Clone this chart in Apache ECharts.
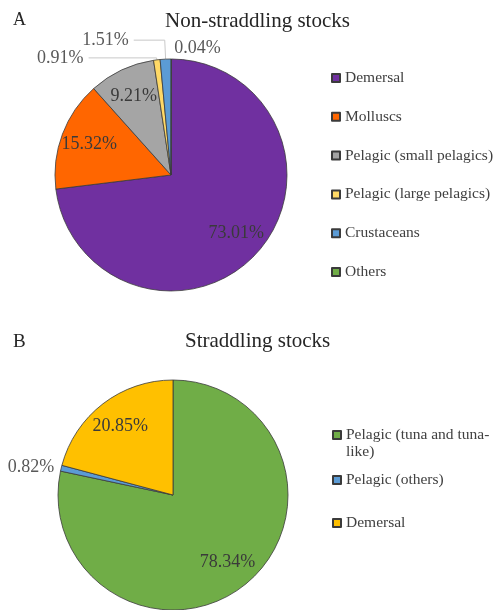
<!DOCTYPE html>
<html>
<head>
<meta charset="utf-8">
<script src="https://cdn.jsdelivr.net/npm/echarts@6/dist/echarts.min.js"></script>
<style>
  html, body { margin: 0; padding: 0; background: #fff; }
  .panel { width: 494px; height: 305px; }
</style>
</head>
<body>
<div id="a" class="panel"></div>
<div id="b" class="panel"></div>
<script>
// Panel A - non-straddling stocks
const catsA = ['Demersal', 'Molluscs', 'Pelagic (small pelagics)', 'Pelagic (large pelagics)', 'Crustaceans', 'Others']
const valsA = [73.01, 15.32, 9.21, 0.91, 1.51, 0.04]
const colorsA = ['#7030a0', '#ff6600', '#a5a5a5', '#ffd966', '#5b9bd5', '#70ad47']

// Panel B - straddling stocks
const catsB = ['Pelagic (tuna and tuna-like)', 'Pelagic (others)', 'Demersal']
const valsB = [78.34, 0.82, 20.85]
const colorsB = ['#70ad47', '#5b9bd5', '#ffc000']

const SERIF = 'Liberation Serif'
const INSIDE_K = 1.43 // excel puts inner labels at ~0.71 r, echarts at 0.5 r

const insideLabel = { position: 'inside', color: '#3a3a3a', fontSize: 18 }
const outsideLabel = { position: 'outside', color: '#595959', fontSize: 18 }

// per-slice label styling (by index)
const labelStyleA = [
  { label: insideLabel },
  { label: insideLabel },
  { label: insideLabel },
  { label: outsideLabel, labelLine: { show: true, length: 2, length2: 68 } },
  { label: outsideLabel, labelLine: { show: true, length: 19, length2: 31 } },
  { label: { ...outsideLabel, distanceToLabelLine: 3 }, labelLine: { show: false, length: 11, length2: 0 } },
]
const labelStyleB = [
  { label: insideLabel },
  { label: { ...outsideLabel, distanceToLabelLine: 1 }, labelLine: { show: false, length: 6, length2: 0 } },
  { label: insideLabel },
]

function pieSeries(cats, vals, colors, styles, center, radius, startAngle) {
  return {
    type: 'pie',
    center,
    radius,
    startAngle,
    clockwise: true,
    avoidLabelOverlap: false,
    silent: true,
    itemStyle: { borderColor: '#3b3b3b', borderWidth: 0.8 },
    label: {
      fontFamily: SERIF,
      formatter: p => p.value.toFixed(2) + '%',
    },
    labelLine: { lineStyle: { color: '#c8c8c8', width: 1 } },
    labelLayout: p => {
      if (styles[p.dataIndex].label.position !== 'inside') return {}
      const r = p.labelRect
      const lx = r.x + r.width / 2
      const ly = r.y + r.height / 2
      return {
        x: center[0] + (lx - center[0]) * INSIDE_K,
        y: center[1] + (ly - center[1]) * INSIDE_K,
      }
    },
    data: cats.map((name, i) => ({
      name,
      value: vals[i],
      itemStyle: { color: colors[i] },
      ...styles[i],
    })),
  }
}

const legendText = { fontFamily: SERIF, fontSize: 15.5, color: '#404040', lineHeight: 17 }

function titleItem(text, left, top, size) {
  return {
    text, left, top, padding: 0,
    textStyle: { fontFamily: SERIF, fontSize: size, fontWeight: 'normal', color: '#262626' },
  }
}

const chartA = echarts.init(document.getElementById('a'))
chartA.setOption({
  animation: false,
  textStyle: { fontFamily: SERIF },
  title: [
    titleItem('A', 13, 11, 18),
    titleItem('Non-straddling stocks', 165, 11, 21),
  ],
  legend: {
    orient: 'vertical',
    left: 331,
    top: 69.5,
    padding: 0,
    data: catsA,
    icon: 'rect',
    itemWidth: 8,
    itemHeight: 8,
    itemGap: 21.8,
    selectedMode: false,
    textStyle: legendText,
  },
  series: [pieSeries(catsA, valsA, colorsA, labelStyleA, [171, 175], 116, 89.8)],
})

const chartB = echarts.init(document.getElementById('b'))
const legendB = (name, top, fmt) => ({
  orient: 'vertical',
  left: 332,
  top,
  padding: 0,
  data: [name],
  icon: 'rect',
  itemWidth: 8,
  itemHeight: 8,
  selectedMode: false,
  textStyle: legendText,
  formatter: fmt || (n => n),
})
chartB.setOption({
  animation: false,
  textStyle: { fontFamily: SERIF },
  title: [
    titleItem('B', 13, 28, 19),
    titleItem('Straddling stocks', 185, 26, 21),
  ],
  legend: [
    // leading blank line keeps the marker level with the first text line
    legendB(catsB[0], 104.5, () => '\nPelagic (tuna and tuna-\nlike)'),
    legendB(catsB[1], 166.5),
    legendB(catsB[2], 209.5),
  ],
  series: [pieSeries(catsB, valsB, colorsB, labelStyleB, [173, 190], 115, 90)],
})
</script>
</body>
</html>
